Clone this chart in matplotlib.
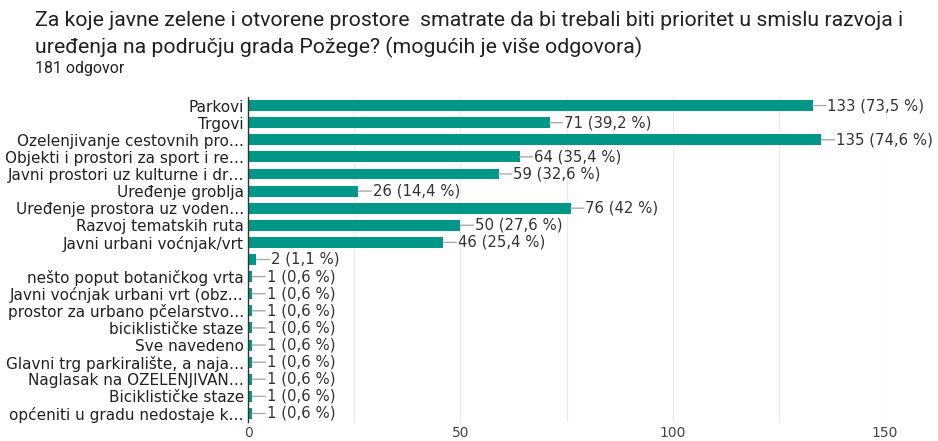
import matplotlib.pyplot as plt

categories = [
    'Parkovi', 'Trgovi', 'Ozelenjivanje cestovnih pro…',
    'Objekti i prostori za sport i re…', 'Javni prostori uz kulturne i dr…',
    'Uređenje groblja', 'Uređenje prostora uz voden…', 'Razvoj tematskih ruta',
    'Javni urbani voćnjak/vrt', '', 'nešto poput botaničkog vrta',
    'Javni voćnjak urbani vrt (obz…', 'prostor za urbano pčelarstvo…',
    'biciklističke staze', 'Sve navedeno', 'Glavni trg parkiralište, a naja…',
    'Naglasak na OZELENJIVAN…', 'Biciklističke staze', 'općeniti u gradu nedostaje k…',
]
counts = [133, 71, 135, 64, 59, 26, 76, 50, 46, 2, 1, 1, 1, 1, 1, 1, 1, 1, 1]
percents = ['73,5', '39,2', '74,6', '35,4', '32,6', '14,4', '42', '27,6', '25,4',
            '1,1', '0,6', '0,6', '0,6', '0,6', '0,6', '0,6', '0,6', '0,6', '0,6']
x_ticks = [0, 50, 100, 150]

bar_color = '#009688'
label_font = 'DejaVu Sans'

fig = plt.figure(figsize=(9.38, 4.41), dpi=100)
fig.text(35 / 938, 1 - 20 / 441, 'Za koje javne zelene i otvorene prostore  smatrate da bi trebali biti prioritet u smislu razvoja i',
         family='Roboto', fontsize=15.3, color='#202124', va='center', ha='left')
fig.text(35 / 938, 1 - 47 / 441, 'uređenja na području grada Požege? (mogućih je više odgovora)',
         family='Roboto', fontsize=15.3, color='#202124', va='center', ha='left')
fig.text(35 / 938, 1 - 68 / 441, '181 odgovor', family='Roboto', fontsize=11.4,
         color='#202124', va='center', ha='left')

ax = fig.add_axes([248 / 938, 19 / 441, 637 / 938, 325 / 441])
y = list(range(len(categories)))
ax.barh(y, counts, height=0.64, color=bar_color, zorder=3)

# short grey leader line from each bar end, then the value label
for i, (c, p) in enumerate(zip(counts, percents)):
    ax.annotate('', xy=(c, i), xytext=(9.4, 0), textcoords='offset points',
                arrowprops=dict(arrowstyle='-', color='#aaaaaa', lw=1, shrinkA=0, shrinkB=0),
                zorder=4)
    ax.annotate(f'{c} ({p} %)', xy=(c, i), xytext=(10.3, 0), textcoords='offset points',
                ha='left', va='center', fontsize=10.7, family=label_font, color='#333333')

ax.set_xlim(0, 150)
ax.set_ylim(len(categories) - 0.5, -0.5)
ax.set_yticks(y)
ax.set_yticklabels(categories, family=label_font, fontsize=11, color='#222222')
ax.set_xticks(x_ticks)
ax.set_xticklabels([str(t) for t in x_ticks], family=label_font, fontsize=10, color='#444444')
ax.set_xticks([25, 75, 125], minor=True)
ax.tick_params(axis='both', which='both', length=0)
ax.tick_params(axis='y', pad=3)
ax.tick_params(axis='x', pad=3)
ax.grid(axis='x', which='both', color='#ebebeb', lw=1, zorder=0)
for side in ['top', 'right', 'bottom']:
    ax.spines[side].set_visible(False)
ax.spines['left'].set_color('#333333')
ax.spines['left'].set_linewidth(1)
ax.spines['left'].set_zorder(5)

fig.savefig('out.png', dpi=100)
